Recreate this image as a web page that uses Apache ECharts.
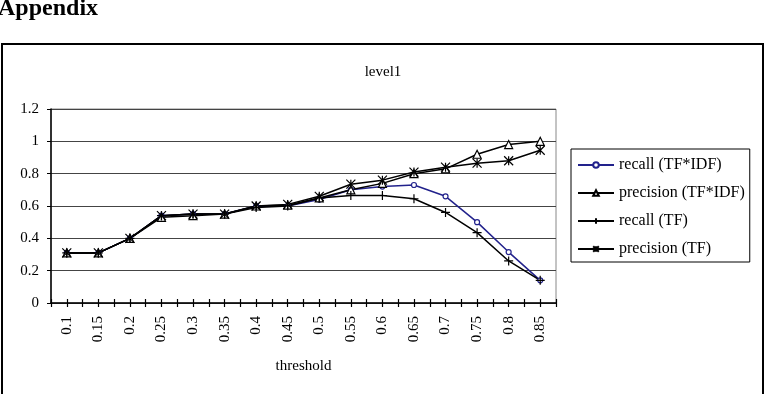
<!DOCTYPE html>
<html>
<head>
<meta charset="utf-8">
<script src="https://cdn.jsdelivr.net/npm/echarts@6/dist/echarts.min.js"></script>
<style>
  html, body { margin: 0; padding: 0; background: #fff; }
  #chart { width: 766px; height: 394px; }
</style>
</head>
<body>
<div id="chart"></div>
<script>
// thresholds on the x axis
const thresholds = ['0.1', '0.15', '0.2', '0.25', '0.3', '0.35', '0.4', '0.45',
  '0.5', '0.55', '0.6', '0.65', '0.7', '0.75', '0.8', '0.85']

const recallTfIdf = [0.31, 0.31, 0.40, 0.54, 0.55, 0.55, 0.60, 0.60,
  0.64, 0.70, 0.72, 0.73, 0.66, 0.50, 0.315, 0.14]
const precisionTfIdf = [0.31, 0.31, 0.40, 0.53, 0.54, 0.55, 0.60, 0.605,
  0.65, 0.70, 0.74, 0.80, 0.83, 0.92, 0.98, 1.0]
const recallTf = [0.31, 0.31, 0.40, 0.54, 0.55, 0.55, 0.59, 0.60,
  0.65, 0.665, 0.665, 0.645, 0.56, 0.435, 0.26, 0.14]
const precisionTf = [0.31, 0.31, 0.40, 0.54, 0.55, 0.55, 0.60, 0.61,
  0.66, 0.735, 0.76, 0.81, 0.84, 0.865, 0.88, 0.945]

const yMin = 0
const yMax = 1.2
const yStep = 0.2

const serif = 'Liberation Serif'
const plusPath = 'path://M5,0L5,10M0,5L10,5'
const starPath = 'path://M0,0L10,10M10,0L0,10M5,0L5,10'

function lineSeries (name, data, lineColor, symbol, size) {
  return {
    name: name,
    type: 'line',
    data: data,
    symbol: symbol,
    symbolSize: size,
    showAllSymbol: true,
    xAxisIndex: 0,
    lineStyle: { color: lineColor, width: 1.5 },
    itemStyle: { color: '#fff', borderColor: lineColor, borderWidth: 1.2 },
    emphasis: { disabled: true }
  }
}

// a hidden value axis that only draws the half-category ticks
function tickAxis (inside) {
  return {
    type: 'value',
    min: 0,
    max: thresholds.length * 2,
    interval: 1,
    position: 'bottom',
    axisLine: { show: false },
    axisLabel: { show: false },
    splitLine: { show: false },
    axisTick: { show: true, inside: inside, length: 4, lineStyle: { color: '#000', width: 1.2 } }
  }
}

const option = {
  animation: false,
  backgroundColor: '#fff',
  graphic: [
    {
      type: 'rect',
      shape: { x: 2, y: 44, width: 761, height: 400 },
      style: { fill: 'none', stroke: '#000', lineWidth: 2 }
    },
    {
      type: 'text',
      left: -2,
      top: -3,
      style: { text: 'Appendix', font: 'bold 24px "Liberation Serif"', fill: '#000' }
    }
  ],
  title: {
    text: 'level1',
    left: 'center',
    top: 60,
    textStyle: { fontFamily: serif, fontSize: 15, fontWeight: 'normal', color: '#000' }
  },
  legend: {
    orient: 'vertical',
    left: 571,
    top: 149,
    padding: [8, 5, 5, 6],
    itemWidth: 36,
    itemHeight: 7,
    itemGap: 12,
    borderColor: '#000',
    borderWidth: 1,
    textStyle: { fontFamily: serif, fontSize: 16, color: '#000' },
    data: ['recall (TF*IDF)', 'precision (TF*IDF)', 'recall (TF)', 'precision (TF)']
  },
  grid: {
    left: 51,
    right: 210,
    top: 109,
    bottom: 91,
    show: true,
    borderColor: '#888',
    borderWidth: 1
  },
  xAxis: [
    {
      type: 'category',
      data: thresholds,
      boundaryGap: true,
      name: 'threshold',
      nameLocation: 'middle',
      nameGap: 56,
      nameTextStyle: { fontFamily: serif, fontSize: 15, color: '#000' },
      axisLine: { lineStyle: { color: '#000', width: 1.5 } },
      axisTick: { show: false },
      axisLabel: {
        rotate: 90,
        interval: 0,
        margin: 13,
        fontFamily: serif,
        fontSize: 15,
        color: '#000'
      }
    },
    tickAxis(true),
    tickAxis(false)
  ],
  yAxis: {
    type: 'value',
    min: yMin,
    max: yMax,
    interval: yStep,
    axisLine: { show: true, lineStyle: { color: '#000', width: 1.5 } },
    axisTick: { show: true, length: 4, lineStyle: { color: '#000' } },
    axisLabel: { fontFamily: serif, fontSize: 15, color: '#000', margin: 12 },
    splitLine: { lineStyle: { color: '#444', width: 1 } }
  },
  series: [
    lineSeries('recall (TF*IDF)', recallTfIdf, '#22228c', 'circle', 5),
    lineSeries('precision (TF*IDF)', precisionTfIdf, '#000', 'triangle', 8),
    lineSeries('recall (TF)', recallTf, '#000', plusPath, 9),
    lineSeries('precision (TF)', precisionTf, '#000', starPath, 9)
  ]
}

const chart = echarts.init(document.getElementById('chart'))
chart.setOption(option)
</script>
</body>
</html>
